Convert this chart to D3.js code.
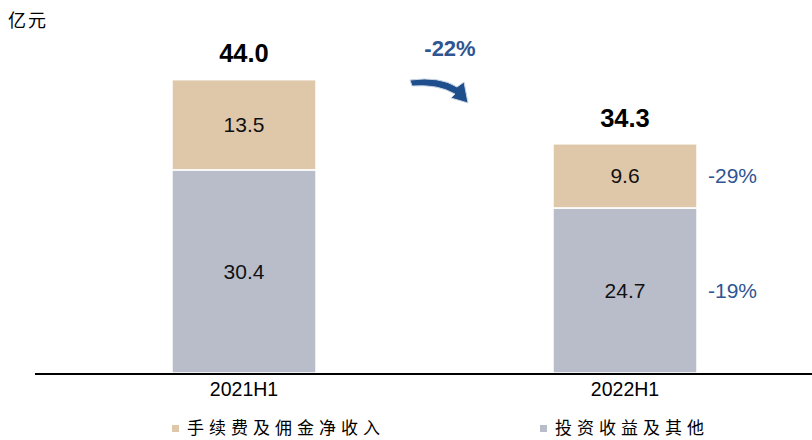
<!DOCTYPE html>
<html>
<head>
<meta charset="utf-8">
<script src="https://cdn.jsdelivr.net/npm/d3@7"></script>
<style>
  body { margin: 0; background: #fff; }
  svg text { font-family: Arial, "Liberation Sans", sans-serif; }
  .cjk { font-family: "Noto Sans CJK SC", sans-serif; }
</style>
</head>
<body>
<svg id="chart" width="812" height="440"></svg>
<script>
/* Data
======================================================================= */
var periods = ['2021H1', '2022H1'],           // Categories
    feeIncome = [13.5, 9.6],                  // 手续费及佣金净收入
    investIncome = [30.4, 24.7],              // 投资收益及其他
    totals = [44.0, 34.3],                    // Totals above bars
    segChanges = ['-29%', '-19%'],            // YoY changes for 2022H1 (fee, invest)
    totalChange = '-22%',                     // YoY change of total
    seriesNames = ['手续费及佣金净收入', '投资收益及其他'],
    colors = ['#dfc8a9', '#b9bdca'];

/* Setup
======================================================================= */
var svg = d3.select('#chart'),
    baseY = 373;

var x = d3.scaleBand()
  .domain(periods)
  .range([53.5, 815.5])
  .paddingInner(0.622)
  .paddingOuter(0.311);

var y = d3.scaleLinear()
  .domain([0, 44])
  .range([baseY, 79]);

// Stack the two series
var rows = periods.map(function(p, i) {
  return { period: p, invest: investIncome[i], fee: feeIncome[i] };
});
var stack = d3.stack().keys(['invest', 'fee'])(rows);
var colorFor = { invest: colors[1], fee: colors[0] };

/* Bars
======================================================================= */
var layers = svg.selectAll('g.layer')
  .data(stack)
  .enter().append('g')
    .attr('class', 'layer')
    .attr('fill', function(d) { return colorFor[d.key]; });

layers.selectAll('rect')
  .data(function(d) { return d; })
  .enter().append('rect')
    .attr('x', function(d) { return x(d.data.period); })
    .attr('y', function(d) { return y(d[1]); })
    .attr('width', x.bandwidth())
    .attr('height', function(d) { return y(d[0]) - y(d[1]); })
    .attr('stroke', '#fff')
    .attr('stroke-width', 1.5);

// Segment value labels
layers.selectAll('text')
  .data(function(d) { return d; })
  .enter().append('text')
    .attr('x', function(d) { return x(d.data.period) + x.bandwidth() / 2; })
    .attr('y', function(d) { return (y(d[0]) + y(d[1])) / 2; })
    .attr('dy', '0.36em')
    .attr('text-anchor', 'middle')
    .attr('font-size', 21)
    .attr('fill', '#111')
    .text(function(d) { return (d[1] - d[0]).toFixed(1); });

// Totals
svg.selectAll('text.total')
  .data(periods)
  .enter().append('text')
    .attr('class', 'total')
    .attr('x', function(d) { return x(d) + x.bandwidth() / 2; })
    .attr('y', function(d, i) { return y(totals[i]) - 26; })
    .attr('dy', '0.36em')
    .attr('text-anchor', 'middle')
    .attr('font-size', 25.5)
    .attr('font-weight', 'bold')
    .attr('fill', '#000')
    .text(function(d, i) { return totals[i].toFixed(1); });

// Segment change labels next to 2022H1
var last = periods.length - 1;
var segMid = [
  y(investIncome[last] + feeIncome[last] / 2),
  y(investIncome[last] / 2)
];
svg.selectAll('text.chg')
  .data(segChanges)
  .enter().append('text')
    .attr('class', 'chg')
    .attr('x', x(periods[last]) + x.bandwidth() + 11)
    .attr('y', function(d, i) { return segMid[i]; })
    .attr('dy', '0.36em')
    .attr('font-size', 21)
    .attr('fill', '#2f5592')
    .text(function(d) { return d; });

/* Axis
======================================================================= */
var xAxis = svg.append('g')
  .attr('transform', 'translate(0,' + baseY + ')')
  .call(d3.axisBottom(x).tickSize(0).tickPadding(9));
xAxis.select('.domain').remove();
xAxis.selectAll('text')
  .attr('font-size', 19.5)
  .attr('fill', '#000')
  .style('font-family', 'Arial, "Liberation Sans", sans-serif');

svg.append('line')
  .attr('x1', 35).attr('x2', 812)
  .attr('y1', baseY + 1).attr('y2', baseY + 1)
  .attr('stroke', '#000')
  .attr('stroke-width', 2);

// Unit label
svg.append('text')
  .attr('class', 'cjk')
  .attr('x', 8).attr('y', 27)
  .attr('font-size', 18)
  .attr('letter-spacing', 2)
  .attr('fill', '#000')
  .text('亿元');

/* Total change arrow
======================================================================= */
svg.append('text')
  .attr('x', 450).attr('y', 48)
  .attr('dy', '0.36em')
  .attr('text-anchor', 'middle')
  .attr('font-size', 22)
  .attr('font-weight', 'bold')
  .attr('fill', '#2f5592')
  .text(totalChange);

svg.append('path')
  .attr('d', 'M410,80 Q440,76 457,87 L464,82 L468,103 L451,98 L455,94 Q438,84 412,86 Z')
  .attr('fill', '#1f4e8c')
  .attr('stroke', '#c9d3e3')
  .attr('stroke-width', 1);

/* Legend
======================================================================= */
var legendX = [172, 540];
var legend = svg.selectAll('g.legend')
  .data(seriesNames)
  .enter().append('g')
    .attr('class', 'legend')
    .attr('transform', function(d, i) { return 'translate(' + legendX[i] + ',428)'; });

legend.append('rect')
  .attr('x', 0).attr('y', -3)
  .attr('width', 7).attr('height', 7)
  .attr('fill', function(d, i) { return colors[i]; });

legend.append('text')
  .attr('class', 'cjk')
  .attr('x', 15).attr('y', 0)
  .attr('dy', '0.36em')
  .attr('font-size', 17)
  .attr('letter-spacing', 5)
  .attr('fill', '#000')
  .text(function(d) { return d; });
</script>
</body>
</html>
